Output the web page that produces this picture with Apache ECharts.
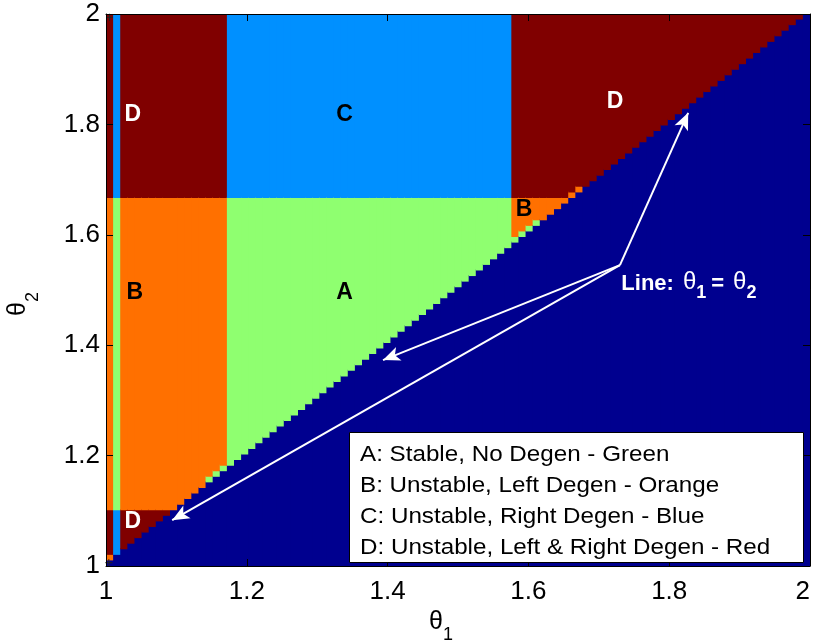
<!DOCTYPE html>
<html>
<head>
<meta charset="utf-8">
<script src="https://cdn.jsdelivr.net/npm/echarts@6/dist/echarts.min.js"></script>
<style>
html, body { margin: 0; padding: 0; background: #fff; }
#chart { width: 814px; height: 640px; }
</style>
</head>
<body>
<div id="chart"></div>
<script>
// Sweep grid: 100 samples of θ from 1 to 2 on each axis (99 cells per side)
const gridPoints = 100;
const thetaMin = 1;
const thetaMax = 2;

// First θ1 cell index of each column band, first θ2 cell index of each row band
const colBandStart = [0, 1, 2, 17, 57];
const rowBandStart = [0, 10, 66];

// Region of each column band inside the low / middle / high θ2 bands
const lowBandRegion  = ['D', 'C', 'D', 'D', 'D'];
const midBandRegion  = ['B', 'A', 'B', 'A', 'B'];
const highBandRegion = ['D', 'C', 'D', 'C', 'D'];

// Cells just above θ1 = θ2 that differ from their band: [θ1 index, θ2 index, region]
const diagonalCells = [
  [0, 1, 'B'],
  [14, 15, 'A'], [15, 16, 'A'], [16, 17, 'A'],
  [57, 58, 'A'], [58, 59, 'A'], [59, 60, 'A'], [60, 61, 'A'],
  [65, 66, 'B'], [66, 67, 'B']
];

// Region keys (E = θ2 <= θ1) and their colours
const regionKeys   = ['E', 'C', 'A', 'B', 'D'];
const regionColors = ['#00008F', '#0090FF', '#8FFF70', '#FF7000', '#800000'];

// Region letters placed on the map: [θ1, θ2, letter]
const regionLabels = [
  [1.038, 1.817, 'D'], [1.339, 1.817, 'C'], [1.723, 1.842, 'D'],
  [1.041, 1.495, 'B'], [1.339, 1.495, 'A'], [1.594, 1.645, 'B'],
  [1.038, 1.080, 'D']
];
const lightLetters = ['D'];

// Arrows from the caption to the θ1 = θ2 edge, and where the caption sits
const arrowStart = [1.730, 1.545];
const arrowTips = [[1.827, 1.821], [1.3935, 1.373], [1.094, 1.083]];
const captionAnchor = [1.732, 1.507];

// Small "+" markers near the left corners
const cornerMarks = [[1.005, 1.994], [1.004, 1.006]];

const legendLines = [
  'A: Stable, No Degen - Green',
  'B: Unstable, Left Degen - Orange',
  'C: Unstable, Right Degen - Blue',
  'D: Unstable, Left & Right Degen - Red'
];

const FONT = "'Liberation Sans', Arial, Helvetica, sans-serif";

// ---- build the cell table ----
const thetaGrid = [];
for (let k = 0; k < gridPoints; k++) {
  thetaGrid.push(thetaMin + k * (thetaMax - thetaMin) / (gridPoints - 1));
}
const bandRegions = [lowBandRegion, midBandRegion, highBandRegion];
const overrides = {};
diagonalCells.forEach(([c, r, g]) => { overrides[c + ',' + r] = g; });

function bandIndex(starts, k) {
  let b = 0;
  for (let n = 0; n < starts.length; n++) if (k >= starts[n]) b = n;
  return b;
}
function regionAt(c, r) {
  if (r <= c) return 'E';
  const key = c + ',' + r;
  if (overrides[key]) return overrides[key];
  return bandRegions[bandIndex(rowBandStart, r)][bandIndex(colBandStart, c)];
}

// vertical runs of equal region in each column: [θ1 lo, θ1 hi, θ2 lo, θ2 hi, region index]
const cellRuns = [];
const nCells = gridPoints - 1;
for (let c = 0; c < nCells; c++) {
  let start = 0;
  let cur = regionAt(c, 0);
  for (let r = 1; r <= nCells; r++) {
    const g = r < nCells ? regionAt(c, r) : null;
    if (g !== cur) {
      cellRuns.push([thetaGrid[c], thetaGrid[c + 1], thetaGrid[start], thetaGrid[r], regionKeys.indexOf(cur)]);
      start = r;
      cur = g;
    }
  }
}

const chart = echarts.init(document.getElementById('chart'), null, { renderer: 'canvas' });

function axisCommon(position, showLabel) {
  return {
    type: 'value', min: 1, max: 2, interval: 0.2, position: position, z: 10,
    axisLine: { show: true, onZero: false, lineStyle: { color: '#000', width: 1 } },
    axisTick: { show: true, inside: true, length: 7, lineStyle: { color: '#000', width: 1 } },
    axisLabel: { show: showLabel, color: '#000', fontSize: 26, fontFamily: FONT },
    splitLine: { show: false }
  };
}

const xBottom = Object.assign(axisCommon('bottom', true), {
  name: '{t|θ}{s|1}', nameLocation: 'middle', nameGap: 29,
  nameTextStyle: {
    rich: {
      t: { fontSize: 25, fontFamily: FONT, color: '#000', verticalAlign: 'bottom', padding: [0, 0, 9, 0] },
      s: { fontSize: 18, fontFamily: FONT, color: '#000', verticalAlign: 'bottom', padding: [0, 34, 0, 0] }
    }
  }
});
xBottom.axisLabel.margin = 13;
xBottom.axisLabel.alignMaxLabel = 'right';
const yLeft = Object.assign(axisCommon('left', true), {
  name: '{t|θ}{s|2}', nameLocation: 'middle', nameGap: 64, nameRotate: 90,
  nameTextStyle: {
    rich: {
      t: { fontSize: 25, fontFamily: FONT, color: '#000', verticalAlign: 'bottom', padding: [0, 0, 11, 0] },
      s: { fontSize: 18, fontFamily: FONT, color: '#000', verticalAlign: 'bottom', padding: [0, 28, 0, 0] }
    }
  }
});
yLeft.axisLabel.margin = 6;

const option = {
  backgroundColor: '#fff',
  animation: false,
  grid: { left: 106, top: 14, width: 704, height: 552, containLabel: false, outerBoundsMode: 'none' },
  xAxis: [xBottom, axisCommon('top', false)],
  yAxis: [yLeft, axisCommon('right', false)],
  series: [
    {
      type: 'custom',
      name: 'regions',
      clip: true,
      silent: true,
      data: cellRuns,
      encode: { x: [0, 1], y: [2, 3] },
      renderItem: function (params, api) {
        const p0 = api.coord([api.value(0), api.value(2)]);
        const p1 = api.coord([api.value(1), api.value(3)]);
        const col = regionColors[api.value(4)];
        // later runs (to the right / above) cover the small overlap, so no seams remain
        return {
          type: 'rect',
          shape: { x: p0[0], y: p1[1] - 1, width: p1[0] - p0[0] + 1, height: p0[1] - p1[1] + 1 },
          style: { fill: col }
        };
      },
      z: 2,
      markLine: {
        silent: true,
        symbol: ['none', 'arrow'],
        symbolSize: [11, 17],
        lineStyle: { color: '#fff', width: 2, type: 'solid' },
        label: { show: false },
        data: arrowTips.map(t => [{ coord: arrowStart }, { coord: t }])
      }
    },
    {
      type: 'custom',
      name: 'letters',
      silent: true,
      data: regionLabels,
      encode: { x: 0, y: 1 },
      renderItem: function (params, api) {
        const p = api.coord([api.value(0), api.value(1)]);
        const letter = regionLabels[params.dataIndex][2];
        return {
          type: 'text', x: p[0], y: p[1],
          style: {
            text: letter, fill: lightLetters.indexOf(letter) >= 0 ? '#fff' : '#000',
            fontSize: 23, fontWeight: 'bold', fontFamily: FONT, align: 'center', verticalAlign: 'middle'
          }
        };
      },
      z: 5
    },
    {
      type: 'custom',
      name: 'caption',
      silent: true,
      data: [captionAnchor],
      encode: { x: 0, y: 1 },
      renderItem: function (params, api) {
        const p = api.coord([api.value(0), api.value(1)]);
        return {
          type: 'text', x: p[0], y: p[1],
          style: {
            text: '{b|Line:}{t|θ}{s|1}{e|=}{t|θ}{s|2}',
            align: 'left', verticalAlign: 'middle',
            rich: {
              b: { fill: '#fff', fontSize: 22, fontWeight: 'bold', fontFamily: FONT, verticalAlign: 'bottom', padding: [0, 0, 7, 0] },
              t: { fill: '#fff', fontSize: 24, fontFamily: FONT, verticalAlign: 'bottom', padding: [0, 0, 7, 9] },
              e: { fill: '#fff', fontSize: 22, fontWeight: 'bold', fontFamily: FONT, verticalAlign: 'bottom', padding: [0, 0, 7, 5] },
              s: { fill: '#fff', fontSize: 18, fontWeight: 'bold', fontFamily: FONT, verticalAlign: 'bottom' }
            }
          }
        };
      },
      z: 5
    },
    {
      type: 'custom',
      name: 'corner marks',
      silent: true,
      data: cornerMarks,
      encode: { x: 0, y: 1 },
      renderItem: function (params, api) {
        const p = api.coord([api.value(0), api.value(1)]);
        return {
          type: 'group',
          children: [
            { type: 'line', shape: { x1: p[0] - 3.5, y1: p[1], x2: p[0] + 3.5, y2: p[1] }, style: { stroke: '#222', lineWidth: 1 } },
            { type: 'line', shape: { x1: p[0], y1: p[1] - 3.5, x2: p[0], y2: p[1] + 3.5 }, style: { stroke: '#222', lineWidth: 1 } }
          ]
        };
      },
      z: 6
    }
  ],
  graphic: [
    {
      type: 'rect', left: 349, top: 432, z: 100,
      shape: { width: 454, height: 130 },
      style: { fill: '#fff', stroke: '#000', lineWidth: 1 }
    }
  ].concat(legendLines.map((s, i) => ({
    type: 'text', x: 360, y: 455 + i * 31, z: 101, scaleX: 1.1,
    style: { text: s, fill: '#000', fontSize: 22, fontFamily: FONT, verticalAlign: 'middle', align: 'left' }
  })))
};

chart.setOption(option);
</script>
</body>
</html>
